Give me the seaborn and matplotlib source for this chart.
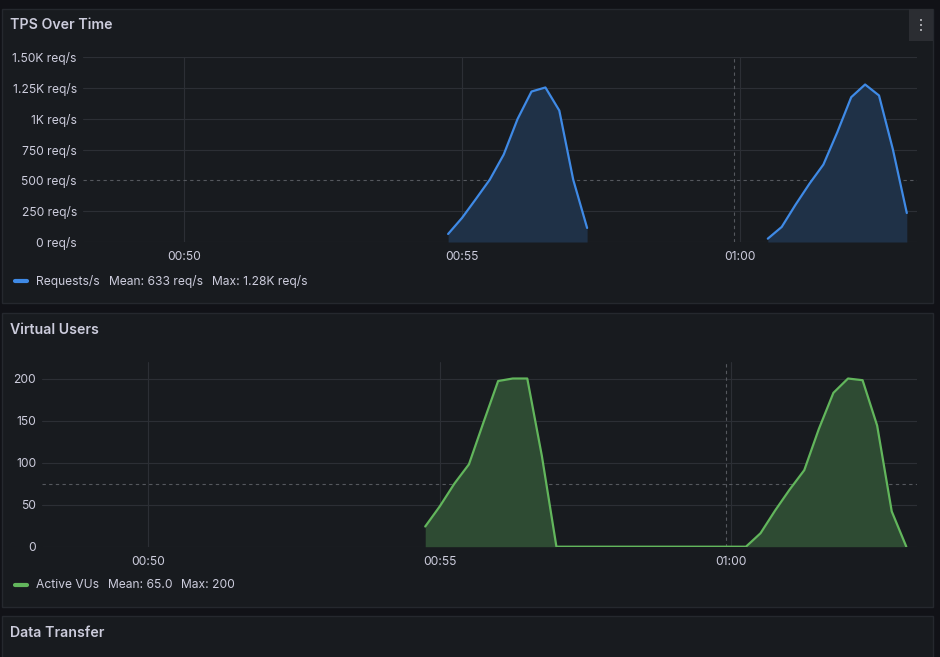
import pandas as pd
import numpy as np
import matplotlib
matplotlib.use("Agg")
import matplotlib.pyplot as plt
import matplotlib.dates as mdates
from matplotlib.patches import Rectangle
import seaborn as sns

# Data (15 s samples)
day = "2024-01-01 "
tps_run1_start = day + "00:54:45"
tps_run1 = [65, 195, 349, 506, 709, 998, 1220, 1253, 1066, 506, 114]
tps_run2_start = day + "01:00:30"
tps_run2 = [27, 122, 303, 473, 628, 890, 1174, 1277, 1188, 750, 235]

vu_start = day + "00:54:45"
vu_values = [24, 48, 75, 98, 148, 197, 200, 200, 108, 0,
             0, 0, 0, 0, 0, 0, 0, 0, 0, 0, 0, 0, 0,
             16, 43, 68, 91, 140, 183, 200, 198, 144, 42, 0]

tps_ticks = [0, 250, 500, 750, 1000, 1250, 1500]
tps_tick_labels = ["0 req/s", "250 req/s", "500 req/s", "750 req/s",
                   "1K req/s", "1.25K req/s", "1.50K req/s"]
vu_ticks = [0, 50, 100, 150, 200]
vu_tick_labels = ["0", "50", "100", "150", "200"]

tps_threshold = 500
vu_threshold = 75
time_marker = day + "00:59:54"
x_start, x_end = day + "00:48:11", day + "01:03:11"

panel_titles = ["TPS Over Time", "Virtual Users", "Data Transfer"]
tps_legend = ["Requests/s", "Mean: 633 req/s", "Max: 1.28K req/s"]
vu_legend = ["Active VUs", "Mean: 65.0", "Max: 200"]

# build frames
tps_df = pd.concat([
    pd.DataFrame({"time": pd.date_range(tps_run1_start, periods=len(tps_run1), freq="15s"),
                  "value": tps_run1, "run": 1}),
    pd.DataFrame({"time": pd.date_range(tps_run2_start, periods=len(tps_run2), freq="15s"),
                  "value": tps_run2, "run": 2}),
])
vu_df = pd.DataFrame({"time": pd.date_range(vu_start, periods=len(vu_values), freq="15s"),
                      "value": vu_values, "run": 1})

# colours
bg = "#111217"
panel_bg = "#181b1f"
panel_edge = "#25282e"
grid_c = "#2c2f35"
dash_c = "#55585e"
text_c = "#ccccdc"
blue, blue_fill = "#3f8ae6", "#1f3147"
green, green_fill = "#62b65c", "#2e4b33"

sns.set_style("dark")
plt.rcParams["font.family"] = ["Inter", "DejaVu Sans"]

W, H = 940, 657
fig = plt.figure(figsize=(W / 100, H / 100), dpi=100, facecolor=bg)


def px_rect(x0, y0, x1, y1):
    return [x0 / W, 1 - y1 / H, (x1 - x0) / W, (y1 - y0) / H]


# panels
for y0, y1 in [(8.5, 303.5), (312.5, 606.5), (616, 680)]:
    l, b, w, h = px_rect(1.5, y0, 933, y1)
    fig.add_artist(Rectangle((l, b), w, h, transform=fig.transFigure,
                             facecolor=panel_bg, edgecolor=panel_edge, lw=1, zorder=0))
for title, ty in zip(panel_titles, [25, 329.5, 633]):
    fig.text(10.5 / W, 1 - ty / H, title, color=text_c, fontsize=10.2,
             fontweight="semibold", va="center", ha="left")

# panel menu button
l, b, w, h = px_rect(909, 8.5, 932.5, 40.5)
fig.add_artist(Rectangle((l, b), w, h, transform=fig.transFigure,
                         facecolor="#2b2d32", edgecolor="none", zorder=1))
for dy in [20, 25, 30]:
    fig.add_artist(Rectangle(((919.5) / W, 1 - (dy + 1) / H), 2.2 / W, 2.2 / H,
                             transform=fig.transFigure, facecolor="#a2a3a8",
                             edgecolor="none", zorder=2))


def style_axis(ax, ticks, labels, ymax, threshold):
    ax.set_facecolor("none")
    for s in ax.spines.values():
        s.set_visible(False)
    ax.set_xlim(pd.Timestamp(x_start), pd.Timestamp(x_end))
    ax.set_ylim(0, ymax)
    ax.set_yticks(ticks)
    ax.set_yticklabels(labels)
    ax.xaxis.set_major_locator(mdates.MinuteLocator(byminute=range(0, 60, 5)))
    ax.xaxis.set_major_formatter(mdates.DateFormatter("%H:%M"))
    ax.tick_params(axis="y", length=0, pad=4.5, labelsize=8.7, labelcolor=text_c)
    ax.tick_params(axis="x", length=3.4, width=0.8, color=grid_c, pad=3,
                   labelsize=8.7, labelcolor=text_c)
    ax.grid(False)
    for xt in ax.get_xticks():
        ax.axvline(xt, color=grid_c, lw=0.8, zorder=0)
    for t in ticks:
        if t != threshold:
            ax.axhline(t, color=grid_c, lw=0.8, zorder=0)
    ax.axhline(threshold, color=dash_c, lw=0.8, ls=(0, (3, 3)), zorder=1)
    ax.axvline(pd.Timestamp(time_marker), color=dash_c, lw=0.8, ls=(0, (3, 3)), zorder=1)
    ax.set_xlabel("")
    ax.set_ylabel("")


# TPS panel
ax1 = fig.add_axes(px_rect(83, 57, 917, 242))
for run, sub in tps_df.groupby("run"):
    ax1.fill_between(sub["time"], sub["value"], color=blue_fill, lw=0, zorder=2)
sns.lineplot(data=tps_df, x="time", y="value", units="run", estimator=None,
             color=blue, lw=1.6, ax=ax1, zorder=3)
style_axis(ax1, tps_ticks, tps_tick_labels, 1500, tps_threshold)

# VU panel
ax2 = fig.add_axes(px_rect(42.3, 361.7, 917, 546.7))
ax2.fill_between(vu_df["time"], vu_df["value"], color=green_fill, lw=0, zorder=2)
sns.lineplot(data=vu_df, x="time", y="value", color=green, lw=1.6, ax=ax2, zorder=3)
style_axis(ax2, vu_ticks, vu_tick_labels, 220, vu_threshold)

# legends
for items, ly, col in [(tps_legend, 281, blue), (vu_legend, 585, green)]:
    fig.add_artist(plt.Line2D([15 / W, 26.5 / W], [1 - ly / H, 1 - ly / H],
                              transform=fig.transFigure, color=col, lw=3,
                              solid_capstyle="round"))
    xs = [36.3, 108.7, 212.3] if col == blue else [36.3, 108, 181.3]
    for txt, lx in zip(items, xs):
        fig.text(lx / W, 1 - ly / H, txt, color=text_c, fontsize=8.7,
                 va="center", ha="left")

fig.savefig("out.png", dpi=100, facecolor=bg)
